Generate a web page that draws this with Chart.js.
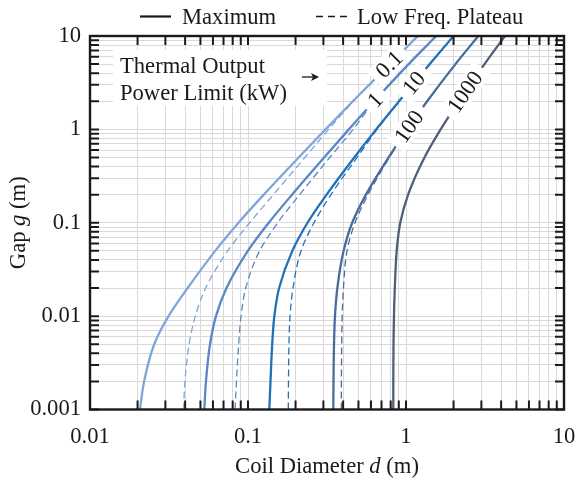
<!DOCTYPE html>
<html>
<head>
<meta charset="utf-8">
<script src="https://cdn.jsdelivr.net/npm/chart.js@4.4.0/dist/chart.umd.min.js"></script>
<style>
  html, body { margin: 0; padding: 0; background: #fff; }
  canvas { display: block; }
</style>
</head>
<body>
<canvas id="chart" width="575" height="481"></canvas>
<script>
// power limit of each curve (kW)
var powerLevels = ['0.1', '1', '10', '100', '1000'];

// gap g (m), shared by all curves
var gapValues = [0.001, 0.002, 0.005, 0.01, 0.02, 0.05, 0.1, 0.2, 0.5, 1, 2, 5, 10];

// coil diameter d (m) for each gap, "Maximum" curves
var dMax01   = [0.0207, 0.0220, 0.0255, 0.0314, 0.0415, 0.0620, 0.0871, 0.1258, 0.2092, 0.3095, 0.4610, 0.788, 1.190];
var dMax1    = [0.0529, 0.0542, 0.0575, 0.0627, 0.0731, 0.0998, 0.1353, 0.1900, 0.3033, 0.4350, 0.6280, 1.0394, 1.554];
var dMax10   = [0.1364, 0.1388, 0.1423, 0.1468, 0.1574, 0.1908, 0.2381, 0.3144, 0.4703, 0.6470, 0.9025, 1.4137, 1.999];
var dMax100  = [0.3467, 0.3477, 0.3503, 0.3552, 0.3677, 0.4029, 0.4566, 0.5581, 0.7762, 1.0174, 1.3612, 2.0559, 2.868];
var dMax1000 = [0.8310, 0.8312, 0.8333, 0.8391, 0.8495, 0.8732, 0.9199, 1.0313, 1.3090, 1.6565, 2.156, 3.139, 4.229];

// "Low Freq. Plateau" curves (dashed)
var dLow01  = [0.0391, 0.0399, 0.0424, 0.0464, 0.0540, 0.0744, 0.1024, 0.1447, 0.2289, 0.3237, 0.4640, 0.788, 1.190];
var dLow1   = [0.0828, 0.0845, 0.0873, 0.0904, 0.0968, 0.1185, 0.1542, 0.2121, 0.3293, 0.4626, 0.6320, 1.0394, 1.554];
var dLow10  = [0.1799, 0.1804, 0.1817, 0.1845, 0.1927, 0.2165, 0.2617, 0.3350, 0.4900, 0.6560, 0.9050, 1.4137, 1.999];
var dLow100 = [0.3895, 0.3900, 0.3917, 0.3946, 0.4021, 0.4232, 0.4756, 0.5750, 0.7850, 1.0174, 1.3612, 2.0559, 2.868];

// gap at which each curve carries its label
var labelGaps = [4.96, 2.06, 3.13, 1.07, 2.51];

var xTickLabels = ['0.01', '0.1', '1', '10'];
var yTickLabels = ['0.001', '0.01', '0.1', '1', '10'];

var lineColors = ['#80a5da', '#5a87c6', '#1f71ba', '#4a6c9c', '#505f76'];
var serif = "'Liberation Serif', 'Times New Roman', serif";
var fontSize = 22.6;

function toPoints(dArr) {
    return dArr.map(function (d, i) {
        return { x: d, y: gapValues[i] };
    });
}

function logTicks(labels) {
    var ticks = [];
    for (var i = 0; i < labels.length - 1; i++) {
        var base = Number(labels[i]);
        for (var m = 1; m < 10; m++) {
            ticks.push({ value: m * base });
        }
    }
    ticks.push({ value: Number(labels[labels.length - 1]) });
    return ticks;
}

function tickText(labels) {
    return function (value) {
        for (var i = 0; i < labels.length; i++) {
            if (Math.abs(value / Number(labels[i]) - 1) < 1e-6) return labels[i];
        }
        return '';
    };
}

var maxSeries = [dMax01, dMax1, dMax10, dMax100, dMax1000];
var lowSeries = [dLow01, dLow1, dLow10, dLow100];

var datasets = [];
maxSeries.forEach(function (arr, i) {
    datasets.push({
        label: powerLevels[i] + ' kW',
        data: toPoints(arr),
        borderColor: lineColors[i],
        borderWidth: 2.3,
        pointRadius: 0,
        cubicInterpolationMode: 'monotone',
        fill: false
    });
});
lowSeries.forEach(function (arr, i) {
    datasets.push({
        label: powerLevels[i] + ' kW plateau',
        data: toPoints(arr),
        borderColor: lineColors[i],
        borderWidth: 1.3,
        borderDash: [7, 4],
        pointRadius: 0,
        cubicInterpolationMode: 'monotone',
        fill: false
    });
});

// draws text pieces, some in italics, centred on x
function drawMixed(ctx, parts, x, y) {
    var total = 0;
    parts.forEach(function (p) {
        ctx.font = (p[1] ? 'italic ' : '') + fontSize + 'px ' + serif;
        total += ctx.measureText(p[0]).width;
    });
    var cx = x - total / 2;
    ctx.textAlign = 'left';
    parts.forEach(function (p) {
        ctx.font = (p[1] ? 'italic ' : '') + fontSize + 'px ' + serif;
        ctx.fillText(p[0], cx, y);
        cx += ctx.measureText(p[0]).width;
    });
}

var decorations = {
    id: 'decorations',
    afterDatasetsDraw: function (chart) {
        var ctx = chart.ctx;
        var yScale = chart.scales.y;
        ctx.save();

        // inline labels on the solid curves
        ctx.font = fontSize + 'px ' + serif;
        ctx.textAlign = 'center';
        ctx.textBaseline = 'middle';
        powerLevels.forEach(function (lab, i) {
            var pts = chart.getDatasetMeta(i).data;
            var py = yScale.getPixelForValue(labelGaps[i]);
            for (var k = 0; k < pts.length - 1; k++) {
                var p0 = pts[k], p1 = pts[k + 1];
                if (p0.y >= py && p1.y <= py) {
                    var t = (p0.y - py) / (p0.y - p1.y);
                    var px = p0.x + t * (p1.x - p0.x);
                    var ang = Math.atan2(p1.y - p0.y, p1.x - p0.x);
                    var w = ctx.measureText(lab).width;
                    ctx.save();
                    ctx.translate(px, py);
                    ctx.rotate(ang);
                    ctx.fillStyle = '#fff';
                    ctx.fillRect(-w / 2 - 7, -11, w + 14, 22);
                    ctx.fillStyle = '#1a1a1a';
                    ctx.fillText(lab, 0, 1);
                    ctx.restore();
                    break;
                }
            }
        });

        // note box
        ctx.fillStyle = '#fff';
        ctx.fillRect(113, 50, 214, 56);
        ctx.fillStyle = '#1a1a1a';
        ctx.textAlign = 'left';
        ctx.textBaseline = 'alphabetic';
        ctx.fillText('Thermal Output', 120, 73);
        ctx.fillText('Power Limit (kW)', 120, 100);
        ctx.strokeStyle = '#1a1a1a';
        ctx.lineWidth = 1.3;
        ctx.beginPath();
        ctx.moveTo(302, 77);
        ctx.lineTo(314, 77);
        ctx.stroke();
        ctx.beginPath();
        ctx.moveTo(319, 77);
        ctx.lineTo(311, 73);
        ctx.lineTo(313, 77);
        ctx.lineTo(311, 81);
        ctx.closePath();
        ctx.fill();

        ctx.restore();
    },
    afterDraw: function (chart) {
        var ctx = chart.ctx;
        var a = chart.chartArea;
        var xs = chart.scales.x, ys = chart.scales.y;
        ctx.save();

        // inward ticks on all four sides
        ctx.strokeStyle = '#1a1a1a';
        ctx.lineWidth = 2;
        ctx.beginPath();
        xs.ticks.forEach(function (t) {
            var px = xs.getPixelForValue(t.value);
            ctx.moveTo(px, a.bottom);
            ctx.lineTo(px, a.bottom - 9);
            ctx.moveTo(px, a.top);
            ctx.lineTo(px, a.top + 9);
        });
        ys.ticks.forEach(function (t) {
            var py = ys.getPixelForValue(t.value);
            ctx.moveTo(a.left, py);
            ctx.lineTo(a.left + 9, py);
            ctx.moveTo(a.right, py);
            ctx.lineTo(a.right - 9, py);
        });
        ctx.stroke();

        ctx.lineWidth = 2.4;
        ctx.strokeRect(a.left, a.top, a.right - a.left, a.bottom - a.top);

        // axis titles
        ctx.fillStyle = '#1a1a1a';
        ctx.textBaseline = 'alphabetic';
        drawMixed(ctx, [['Coil Diameter ', false], ['d', true], [' (m)', false]], (a.left + a.right) / 2, 473);
        ctx.save();
        ctx.translate(25, (a.top + a.bottom) / 2);
        ctx.rotate(-Math.PI / 2);
        drawMixed(ctx, [['Gap ', false], ['g', true], [' (m)', false]], 0, 0);
        ctx.restore();

        // legend
        ctx.lineWidth = 2.2;
        ctx.beginPath();
        ctx.moveTo(140, 16.5);
        ctx.lineTo(171, 16.5);
        ctx.stroke();
        ctx.lineWidth = 1.3;
        ctx.setLineDash([7, 5]);
        ctx.beginPath();
        ctx.moveTo(316, 16.5);
        ctx.lineTo(347, 16.5);
        ctx.stroke();
        ctx.setLineDash([]);
        ctx.font = fontSize + 'px ' + serif;
        ctx.textAlign = 'left';
        ctx.fillText('Maximum', 182, 24);
        ctx.fillText('Low Freq. Plateau', 357, 24);

        ctx.restore();
    }
};

var ctx = document.getElementById('chart').getContext('2d');

var myChart = new Chart(ctx, {
    type: 'line',
    data: { datasets: datasets },
    options: {
        indexAxis: 'y',
        responsive: false,
        animation: false,
        devicePixelRatio: 1,
        layout: { padding: { top: 36, right: 11, bottom: 0, left: 0 } },
        plugins: {
            legend: { display: false },
            tooltip: { enabled: false }
        },
        scales: {
            x: {
                type: 'logarithmic',
                position: 'bottom',
                min: 0.01,
                max: 10,
                afterBuildTicks: function (scale) { scale.ticks = logTicks(xTickLabels); },
                afterFit: function (scale) {
                    scale.height = 71.5;
                    scale.paddingLeft = 0;
                    scale.paddingRight = 0;
                },
                grid: { color: '#d9d9d9', lineWidth: 1, drawTicks: false },
                border: { display: false },
                ticks: {
                    autoSkip: false,
                    maxRotation: 0,
                    padding: 14,
                    color: '#1a1a1a',
                    font: { family: serif, size: fontSize },
                    callback: tickText(xTickLabels)
                }
            },
            y: {
                type: 'logarithmic',
                position: 'left',
                min: 0.001,
                max: 10,
                afterBuildTicks: function (scale) { scale.ticks = logTicks(yTickLabels); },
                afterFit: function (scale) {
                    scale.width = 90;
                    scale.paddingTop = 0;
                    scale.paddingBottom = 0;
                },
                grid: { color: '#d9d9d9', lineWidth: 1, drawTicks: false },
                border: { display: false },
                ticks: {
                    autoSkip: false,
                    padding: 9,
                    color: '#1a1a1a',
                    font: { family: serif, size: fontSize },
                    callback: tickText(yTickLabels)
                }
            }
        }
    },
    plugins: [decorations]
});
</script>
</body>
</html>
